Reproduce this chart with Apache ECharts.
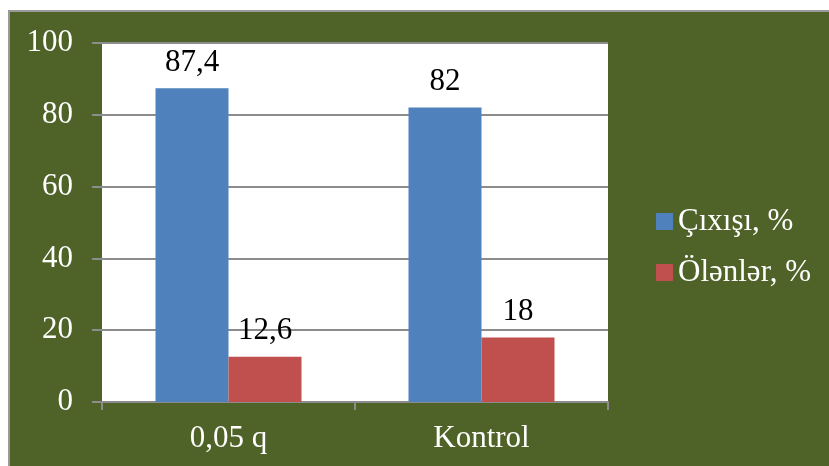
<!DOCTYPE html>
<html>
<head>
<meta charset="utf-8">
<style>
  html, body { margin: 0; padding: 0; background: #ffffff; }
  #chart { width: 829px; height: 466px; }
</style>
<script src="https://cdn.jsdelivr.net/npm/echarts@6/dist/echarts.min.js"></script>
</head>
<body>
<div id="chart"></div>
<script>
// Categories and series values
const categories = ['0,05 q', 'Kontrol'];
const seriesNames = ['Çıxışı, %', 'Ölənlər, %'];
const hatchValues = [87.4, 82];
const deathValues = [12.6, 18];
const yTicks = { min: 0, max: 100, interval: 20 };

const FONT = "'Liberation Serif', 'Times New Roman', serif";
const FS = 31;
const OLIVE = '#4F6228';
const GRID_GRAY = '#8c8c8c';

const chart = echarts.init(document.getElementById('chart'), null, { renderer: 'canvas' });

const labelFmt = p => String(p.value).replace('.', ',');

chart.setOption({
  backgroundColor: '#ffffff',
  animation: false,
  graphic: [{
    type: 'rect',
    z: -10,
    silent: true,
    shape: { x: 9, y: 11, width: 840, height: 480 },
    style: { fill: OLIVE, stroke: '#9a9a9a', lineWidth: 2 }
  }],
  grid: {
    left: 102, top: 43, width: 506, height: 359,
    show: true, backgroundColor: '#ffffff', borderWidth: 0
  },
  legend: {
    orient: 'vertical',
    left: 651, top: 201,
    itemWidth: 17, itemHeight: 17, itemGap: 20,
    icon: 'rect',
    textStyle: { color: '#ffffff', fontFamily: FONT, fontSize: FS, padding: [0, 0, 0, 0] },
    data: seriesNames
  },
  xAxis: {
    type: 'category',
    data: categories,
    axisLine: { show: true, lineStyle: { color: GRID_GRAY, width: 2 } },
    axisTick: { show: true, length: 8, lineStyle: { color: GRID_GRAY, width: 2 } },
    axisLabel: { color: '#ffffff', fontFamily: FONT, fontSize: FS, margin: 21 }
  },
  yAxis: {
    type: 'value',
    min: yTicks.min, max: yTicks.max, interval: yTicks.interval,
    axisLine: { show: false },
    axisTick: { show: true, length: 10, lineStyle: { color: GRID_GRAY, width: 2 } },
    splitLine: { show: true, lineStyle: { color: GRID_GRAY, width: 2 } },
    axisLabel: { color: '#ffffff', fontFamily: FONT, fontSize: FS, margin: 29 }
  },
  series: [
    {
      name: seriesNames[0], type: 'bar', data: hatchValues,
      barWidth: 73, barGap: '0%',
      itemStyle: { color: '#4F81BD' },
      label: { show: true, position: 'top', distance: 10, color: '#000000',
               fontFamily: FONT, fontSize: FS, formatter: labelFmt }
    },
    {
      name: seriesNames[1], type: 'bar', data: deathValues,
      barWidth: 73, barGap: '0%',
      itemStyle: { color: '#C0504D' },
      label: { show: true, position: 'top', distance: 10, color: '#000000',
               fontFamily: FONT, fontSize: FS, formatter: labelFmt }
    }
  ]
});
</script>
</body>
</html>
